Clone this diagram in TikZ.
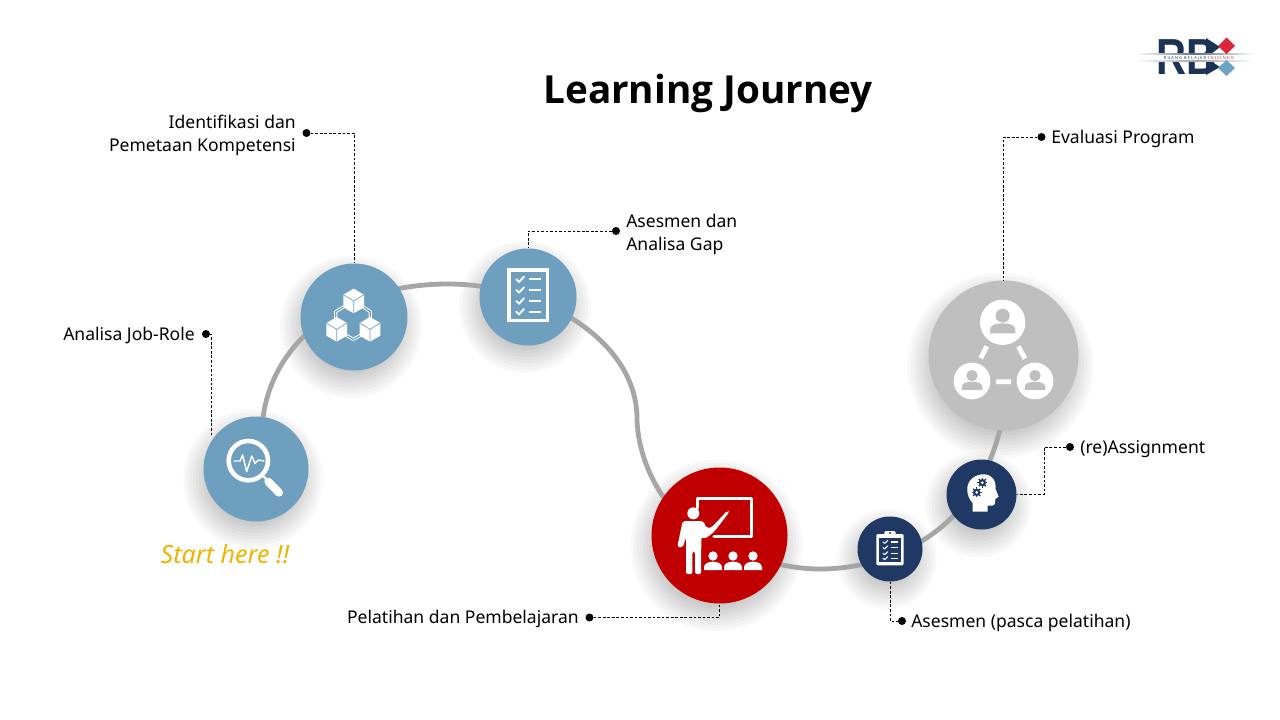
\documentclass[tikz,border=0pt]{standalone}
\usepackage{fontspec}
\setmainfont{Noto Sans}
\newfontfamily\titlefont{Open Sans}
\newfontfamily\logofont{Liberation Sans}
\usetikzlibrary{backgrounds,fadings,calc}
\definecolor{bluec}{HTML}{6F9FBF}
\definecolor{redc}{HTML}{C00000}
\definecolor{navyc}{HTML}{1F3864}
\definecolor{grayc}{HTML}{BFBFBF}
\definecolor{trackc}{HTML}{A6A6A6}
\definecolor{goldc}{HTML}{F0B400}
\definecolor{logonavy}{HTML}{1B3355}
\definecolor{logored}{HTML}{D9263A}
\definecolor{logoblue}{HTML}{6FA3C4}
\tikzset{
  disc/.style={circle,inner sep=0pt,minimum size=#1*0.75pt,draw=none},
  track/.style={trackc,line width=3.6pt},
  leader/.style={black,line width=0.55pt,dash pattern=on 2pt off 1.4pt},
  leaddot/.style={circle,fill=black,inner sep=0pt,minimum size=6pt},
  lab/.style={font=\fontsize{13.15pt}{17.2pt}\selectfont,inner sep=0pt,text=black},
  ico/.style={white,line width=#1,line cap=round,line join=round},
  ico/.default=1pt
}
\newcommand{\shadowdisc}[3]{%
  \foreach \k in {0,...,9}{\fill[black,opacity=0.024] (#1-3,#2+10) circle [radius=#3+18-\k*3.2];}}
\newcommand{\cubeicon}[2]{\begin{scope}[shift={(#1,#2)}]
  \fill[white] (0,-37)--(31,-19)--(31,19)--(0,37)--(-31,19)--(-31,-19)--cycle;
  \draw[bluec,line width=.5pt] (-31,-19)--(0,0)--(31,-19) (0,0)--(0,37);
\end{scope}}
\newcommand{\personicon}[3]{\begin{scope}[shift={(#1,#2)},scale=#3]
  \fill[white] (0,0) circle [radius=68];
  \fill[grayc] (0,-20) circle [radius=21];
  \fill[grayc] (-38,33)--(-38,22) .. controls (-38,8) and (-20,3) .. (0,3) .. controls (20,3) and (38,8) .. (38,22)--(38,33)--cycle;
\end{scope}}
\newcommand{\studenticon}[1]{\begin{scope}[shift={(#1,0)}]
  \fill[white] (0,318) circle [radius=14];
  \fill[white] (-27,360)--(-27,352) .. controls (-27,340) and (-12,335) .. (0,335) .. controls (12,335) and (27,340) .. (27,352)--(27,360)--cycle;
\end{scope}}
\newcommand{\gearicon}[2]{\begin{scope}[shift={(#1,#2)}]
  \fill[navyc] (0,0) circle [radius=11];
  \foreach \a in {0,45,...,315}{\draw[navyc,line width=.9pt] (0,0)--(\a:15);}
  \fill[white] (0,0) circle [radius=4.5];
\end{scope}}
\begin{document}
\begin{tikzpicture}[x=0.75pt,y=-0.75pt]
\useasboundingbox (0,0) rectangle (1280,720);
% circles
\node[disc=105,fill=bluec] (n1) at (256,469) {};
\node[disc=107,fill=bluec] (n2) at (354,317) {};
\node[disc=97,fill=bluec] (n3) at (528,297) {};
\node[disc=136,fill=redc] (n4) at (719.5,535.5) {};
\node[disc=65,fill=navyc] (n5) at (890,549) {};
\node[disc=70,fill=navyc] (n6) at (981.5,494.5) {};
\node[disc=150,fill=grayc] (n7) at (1003.5,355.5) {};
\begin{scope}[on background layer]
  \fill[white] (0,0) rectangle (1280,720);
  \shadowdisc{256}{469}{52}
  \shadowdisc{354}{317}{53}
  \shadowdisc{528}{297}{48}
  \shadowdisc{719.5}{535.5}{68}
  \shadowdisc{890}{549}{32}
  \shadowdisc{981.5}{494.5}{35}
  \shadowdisc{1003.5}{355.5}{75}
  \draw[track] (n1.center) ++(7,-51) .. controls (272,345) and (340,284) .. (448,284)
     .. controls (540,284) and (638,340) .. (637,420)
     .. controls (638,450) and (650,478) .. (664,498)
     .. controls (690,535) and (760,569) .. (820,569)
     .. controls (880,569) and (975,540) .. (1001,425);
\end{scope}
% title and labels
\node[inner sep=0pt,font=\titlefont\fontsize{29pt}{36pt}\bfseries\selectfont] (title) at (708,93) {Learning Journey};
\node[lab,anchor=east,align=right] (t2) at (296,135) {Identifikasi dan\\Pemetaan Kompetensi};
\node[lab,anchor=east] (t1) at (195,336) {Analisa Job-Role};
\node[lab,anchor=west,align=left] (t3) at (626,234) {Asesmen dan\\Analisa Gap};
\node[lab,anchor=west] (t7) at (1051,139) {Evaluasi Program};
\node[lab,anchor=west] (t6) at (1080,449) {(re)Assignment};
\node[lab,anchor=west] (t5) at (911,623) {Asesmen (pasca pelatihan)};
\node[lab,anchor=east] (t4) at (579,619) {Pelatihan dan Pembelajaran};
\node[inner sep=0pt,text=goldc,font=\fontsize{18.8pt}{22pt}\itshape\selectfont] (start) at (225,554) {Start here !!};
% leader dots
\node[leaddot] (d1) at (206,334) {};
\node[leaddot] (d2) at (306.5,133) {};
\node[leaddot] (d3) at (616,231) {};
\node[leaddot] (d4) at (589.5,617.5) {};
\node[leaddot] (d5) at (902,621) {};
\node[leaddot] (d6) at (1070,447) {};
\node[leaddot] (d7) at (1041.5,137) {};
\coordinate (k1) at (211.5,437);
\coordinate (k6) at (1044,470);
\draw[leader] (d1.east) -| (k1);
\draw[leader] (d2) -| (n2);
\draw[leader] (d3) -| (n3);
\draw[leader] (d4) -| (n4);
\draw[leader] (n5) |- (d5);
\draw[leader] (d6) -| (k6) |- (n6);
\draw[leader] (d7) -| (n7);
% magnifier icon
\begin{scope}[shift={(190,250)},x=.25pt,y=-.25pt]
  \draw[ico=3.4pt] (175,632) circle [radius=59];
  \draw[ico=1.8pt] (222,680)--(235,695);
  \draw[ico=6pt] (235,695)--(267,728);
  \draw[ico=1.1pt] (132,633)--(150,633)--(158,615)--(170,665)--(185,618)--(195,640)--(205,630)--(222,633);
  % cubes
  \draw[white,line width=2.4pt,line join=round] (462,170)--(437,185)--(437,215) (518,170)--(541,185)--(541,215) (458,250)--(490,268)--(522,250);
  \draw[bluec,line width=.9pt,line join=round] (462,170)--(437,185)--(437,215) (518,170)--(541,185)--(541,215) (458,250)--(490,268)--(522,250);
  \cubeicon{491}{153}
  \cubeicon{440}{238}
  \cubeicon{540}{238}
  % checklist
  \draw[white,line width=2.3pt] (957,60) rectangle (1072,212);
  \foreach \yy in {88,120,153,185}{
    \draw[ico=1.4pt] (979,\yy)--(987,\yy+8)--(1002,\yy-8);
    \draw[white,line width=1.4pt] (1017,\yy)--(1052,\yy);
  }
\end{scope}
% teacher, clipboard, head
\begin{scope}[shift={(640,450)},x=.25pt,y=-.25pt]
  \draw[ico=2.4pt] (172,175)--(172,145)--(335,145)--(335,260)--(222,260);
  \fill[white] (160,190) circle [radius=18];
  \fill[white,rounded corners=1.5pt] (128,213)--(190,213)--(200,235)--(215,232)--(262,182)--(268,186)--(222,246)--(196,266)--(184,262)--(183,372)--(165,372)--(165,305)--(157,305)--(157,372)--(138,372)--(138,262)--(128,293)--(112,290)--cycle;
  \studenticon{219}
  \studenticon{279}
  \studenticon{339}
  % clipboard
  \fill[white,rounded corners=1pt] (709,252) rectangle (791,346);
  \fill[navyc] (718,263) rectangle (783,337);
  \fill[white,rounded corners=1pt] (733,243) rectangle (767,260);
  \fill[navyc] (750,249) circle [radius=3.5];
  \foreach \yy in {276,293,310,325}{
    \draw[ico=.8pt] (729,\yy)--(734,\yy+4)--(743,\yy-5);
    \draw[white,line width=.9pt] (752,\yy)--(775,\yy);
  }
  % head
  \fill[white] (998,185)--(998,160) .. controls (985,145) and (980,128) .. (982,112) .. controls (985,88) and (1008,72) .. (1032,73) .. controls (1058,74) and (1068,92) .. (1067,118) -- (1076,140) -- (1066,147) -- (1065,160) .. controls (1063,168) and (1052,168) .. (1043,167) -- (1043,185) -- cycle;
  \gearicon{1027}{98}
  \gearicon{1010}{127}
\end{scope}
% people network
\begin{scope}[shift={(910,270)},x=.25pt,y=-.25pt]
  \personicon{278}{157}{1}
  \personicon{186}{333}{.81}
  \personicon{375}{333}{.81}
  \draw[white,line width=3.6pt] (230,229)--(212,265) (325,229)--(345,266) (258,335)--(303,335);
\end{scope}
% logo
\node[inner sep=0pt,text=logonavy,font=\logofont\fontsize{38pt}{38pt}\bfseries\selectfont] (rb) at (1186,57) {\scalebox{0.82}[1]{RB}};
\path[fill=logonavy] (1206,38)--(1220,47)--(1206,58)--cycle (1206,75)--(1220,67)--(1206,58)--cycle;
\fill[white] (1150,54.5) rectangle (1222,61.5);
\fill[left color=white,right color=white,middle color=logonavy!70] (1136,53.5) rectangle (1254,54.5);
\fill[left color=white,right color=white,middle color=gray!70] (1136,61) rectangle (1254,62);
\node[inner sep=0pt,font=\fontsize{3pt}{4pt}\selectfont,text=logonavy] (rbtext) at (1199,58) {R U A N G\; B E L A J A R\; \textcolor{logored}{I N I X I N D O}};
\fill[logored] (1226.5,37.5)--(1235,46)--(1226.5,54)--(1218,46)--cycle;
\fill[logoblue] (1226.5,60)--(1235,68)--(1226.5,76)--(1218,68)--cycle;
\end{tikzpicture}
\end{document}
